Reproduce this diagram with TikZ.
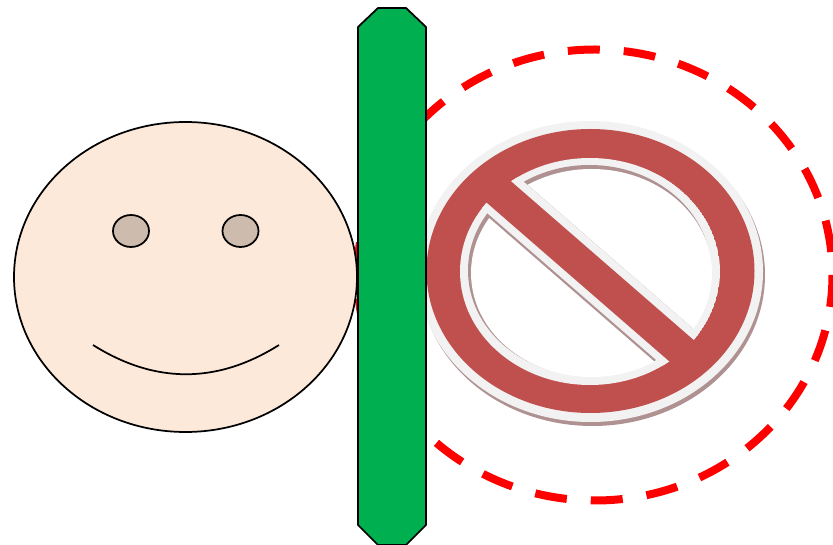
\documentclass[tikz,border=0pt]{standalone}
\usepackage{xcolor}
\definecolor{FaceSkin}{HTML}{FDE9D9}
\definecolor{EyeBrown}{HTML}{CDBCAE}
\definecolor{BarGreen}{HTML}{00B050}
\definecolor{SignRed}{HTML}{C0504D}
\definecolor{SignGray}{HTML}{F2F2F2}
\definecolor{SignShadow}{HTML}{B09192}
\tikzset{
  facepart/.style={draw=black, fill=FaceSkin, line width=1.3pt},
  eyepart/.style={draw=black, fill=EyeBrown, line width=1.3pt},
  smileline/.style={draw=black, line width=1.3pt},
  barpart/.style={draw=black, fill=BarGreen, line width=1.3pt, line join=miter},
  zoneline/.style={draw=red, line width=6pt, dash pattern=on 24pt off 18pt},
  signred/.style={fill=SignRed},
  signgray/.style={fill=SignGray},
  signshadow/.style={fill=SignShadow}
}
\begin{document}
\begin{tikzpicture}[x=0.75pt,y=-0.75pt]
  \useasboundingbox (0,0) rectangle (833,545);
  % dashed zone behind everything
  \draw[zoneline] (595,275) ellipse [x radius=237.5, y radius=225.5];
  % face
  \path[facepart] (185.5,277) ellipse [x radius=171.5, y radius=155];
  \foreach \x in {131,240.5} {
    \path[eyepart] (\x,231) ellipse [x radius=18, y radius=16];
  }
  \draw[smileline] (93,345) .. controls (155,384) and (217,384) .. (279,345);
  % no entry sign
  \path[signshadow] (592.5,275) ellipse [x radius=172.5, y radius=151];
  \path[signgray] (590.5,271.5) ellipse [x radius=172.5, y radius=150.5];
  \path[signred] (590.5,271) ellipse [x radius=164, y radius=142];
  \begin{scope}
    \clip (590,271.5) ellipse [x radius=130, y radius=113.5];
    \path[signgray] (590,271.5) ellipse [x radius=130, y radius=113.5];
    \path[signshadow] (589.5,270.5) ellipse [x radius=121.5, y radius=105.5];
    \path[fill=white] (591.5,273) ellipse [x radius=120.5, y radius=104];
    \begin{scope}
      \clip (590,271) ellipse [x radius=122, y radius=106];
      \path[signshadow] (440,108.9) -- (740,369.6) -- (740,435.8) -- (440,175.1) -- cycle;
    \end{scope}
    \path[signgray] (440,108.9) -- (740,369.6) -- (740,432.8) -- (440,172.1) -- cycle;
  \end{scope}
  \begin{scope}
    \clip (590.5,271) ellipse [x radius=150, y radius=128];
    \path[signred] (440,119.6) -- (740,380.3) -- (740,422.8) -- (440,162.1) -- cycle;
  \end{scope}
  % green bar
  \path[barpart] (378,8) -- (406,8) -- (426,27) -- (426,525) -- (406,545) -- (378,545) -- (358,525) -- (358,27) -- cycle;
\end{tikzpicture}
\end{document}
